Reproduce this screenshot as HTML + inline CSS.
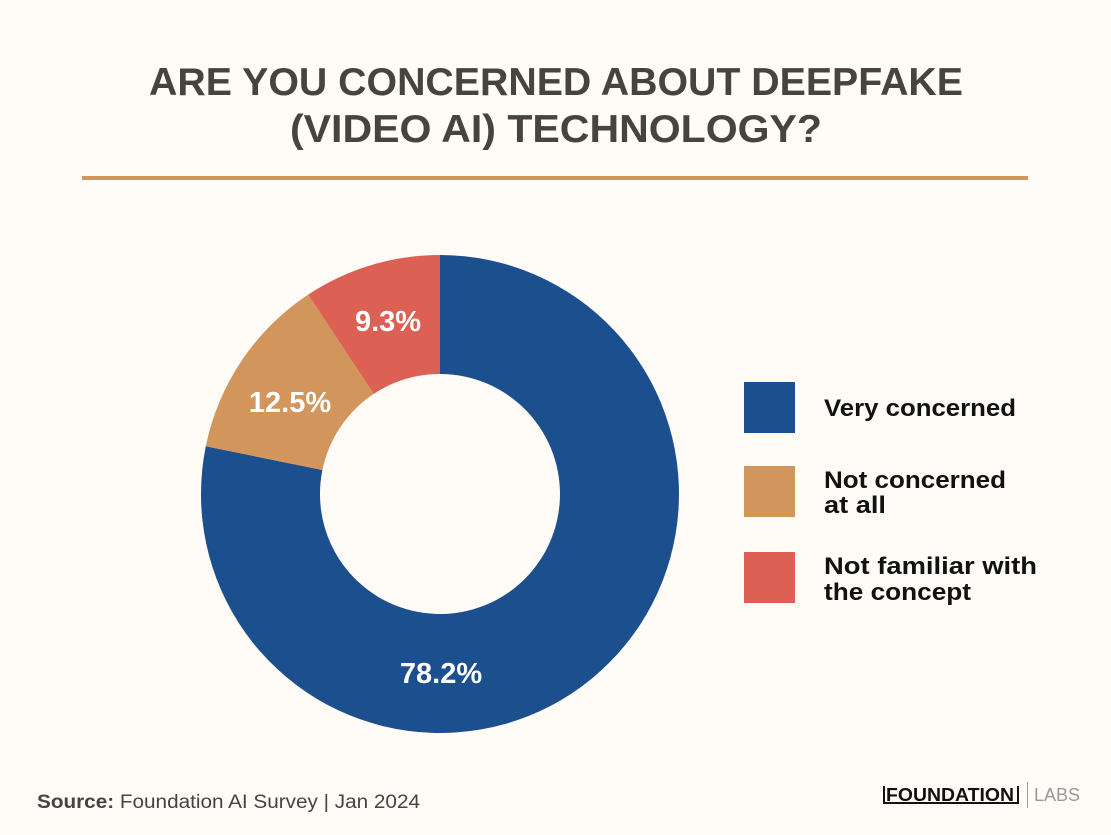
<!DOCTYPE html>
<html><head><meta charset="utf-8"><style>
body{margin:0;background:#fffbf6;}
svg{display:block}
</style></head><body>
<svg width="1111" height="835" viewBox="0 0 1111 835" xmlns="http://www.w3.org/2000/svg">
<rect width="1111" height="835" fill="#fffbf6"/>
<g font-family="'Liberation Sans', 'DejaVu Sans', sans-serif" font-weight="bold" fill="#45443f" font-size="39" text-anchor="middle">
<text x="556" y="95" textLength="814" lengthAdjust="spacingAndGlyphs">ARE YOU CONCERNED ABOUT DEEPFAKE</text>
<text x="556" y="142" textLength="532" lengthAdjust="spacingAndGlyphs">(VIDEO AI) TECHNOLOGY?</text>
</g>
<rect x="82" y="176" width="946" height="4" fill="#d4955a"/>
<path d="M440,255 A239,239 0 1,1 205.8,446.3 L322.4,470 A120,120 0 1,0 440,374 Z" fill="#1b4f8e"/>
<path d="M205.8,446.3 A239,239 0 0,1 308.2,294.6 L373.8,393.9 A120,120 0 0,0 322.4,470 Z" fill="#d2955c"/>
<path d="M308.2,294.6 A239,239 0 0,1 440,255 L440,374 A120,120 0 0,0 373.8,393.9 Z" fill="#dc6054"/>
<g font-family="'Liberation Sans', 'DejaVu Sans', sans-serif" font-weight="bold" fill="#fff" font-size="29" text-anchor="middle">
<text x="441" y="683">78.2%</text>
<text x="290" y="412">12.5%</text>
<text x="388" y="331">9.3%</text>
</g>
<rect x="744" y="382" width="51" height="51" fill="#1b4f8e"/>
<rect x="744" y="466" width="51" height="51" fill="#d2955c"/>
<rect x="744" y="552" width="51" height="51" fill="#dc6054"/>
<g font-family="'Liberation Sans', 'DejaVu Sans', sans-serif" font-weight="bold" fill="#111" font-size="24">
<text x="824" y="416" textLength="192" lengthAdjust="spacingAndGlyphs">Very concerned</text>
<text x="824" y="488" textLength="182" lengthAdjust="spacingAndGlyphs">Not concerned</text>
<text x="824" y="513" textLength="62" lengthAdjust="spacingAndGlyphs">at all</text>
<text x="824" y="574" textLength="213" lengthAdjust="spacingAndGlyphs">Not familiar with</text>
<text x="824" y="600" textLength="147" lengthAdjust="spacingAndGlyphs">the concept</text>
</g>
<text x="37" y="808" font-family="'Liberation Sans', sans-serif" font-size="19" fill="#444" textLength="383" lengthAdjust="spacingAndGlyphs"><tspan font-weight="bold">Source:</tspan> Foundation AI Survey | Jan 2024</text>
<g font-family="'Liberation Sans', sans-serif" font-size="18">
<text x="886" y="801" font-weight="bold" fill="#111" textLength="128" lengthAdjust="spacingAndGlyphs">FOUNDATION</text>
<rect x="883" y="786" width="2" height="18" fill="#111"/>
<rect x="883" y="802" width="136" height="2" fill="#111"/>
<rect x="1017" y="786" width="2" height="18" fill="#111"/>
<rect x="1027" y="782" width="1" height="26" fill="#999"/>
<text x="1034" y="801" fill="#999">LABS</text>
</g>
</svg>
</body></html>
